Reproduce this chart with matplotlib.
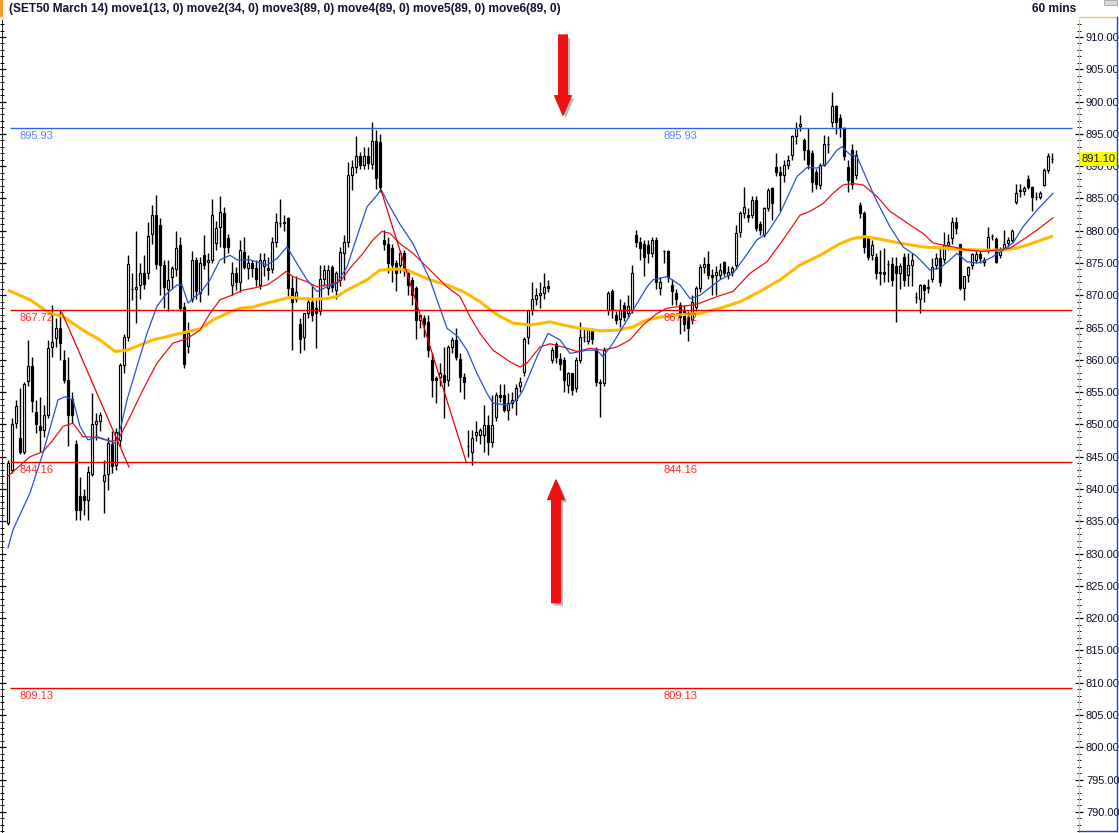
import numpy as np
import matplotlib.pyplot as plt
import matplotlib.patheffects as pe
import matplotlib.transforms as mtransforms
from matplotlib.ticker import MultipleLocator, FormatStrFormatter
from matplotlib.patches import Rectangle, FancyArrowPatch, ArrowStyle
from matplotlib.lines import Line2D

plt.rcParams['font.family'] = ['Liberation Sans', 'DejaVu Sans']

# 60 min bars, SET50 March 14
opens = [
    834.8, 843.0, 850.2, 847.9, 845.8, 856.7, 859.0, 852.0, 849.7, 849.2,
    851.5, 862.0, 863.4, 864.9, 860.0, 856.9, 853.9, 847.0, 839.0, 838.9,
    838.3, 842.4, 850.0, 850.6, 841.2, 842.4, 847.0, 843.8, 847.6, 859.2,
    863.6, 871.0, 871.0, 871.6, 873.4, 873.4, 879.5, 882.4, 880.9, 874.7,
    871.0, 872.8, 874.0, 877.8, 868.2, 862.1, 869.5, 875.5, 870.3, 876.2,
    875.1, 875.5, 878.1, 880.6, 882.8, 878.8, 871.6, 873.4, 872.1, 876.7,
    874.2, 875.0, 874.2, 871.6, 874.6, 874.3, 874.1, 878.3, 881.2, 881.2,
    881.9, 871.1, 869.5, 865.6, 863.6, 867.2, 869.0, 868.0, 867.5, 872.6,
    871.1, 874.4, 870.8, 872.3, 876.5, 878.3, 888.6, 889.9, 891.5, 890.2,
    891.5, 890.4, 893.9, 893.8, 878.5, 877.9, 877.3, 875.0, 874.7, 876.5,
    873.4, 872.4, 871.1, 866.2, 866.5, 865.9, 860.0, 857.2, 857.4, 857.6,
    856.9, 862.0, 863.1, 860.2, 857.4, 846.6, 845.8, 848.4, 848.4, 848.4,
    849.9, 847.3, 851.2, 854.6, 854.6, 852.3, 853.3, 853.8, 855.9, 858.2,
    863.6, 867.7, 869.5, 870.0, 870.3, 871.4, 860.0, 862.5, 860.2, 860.0,
    856.1, 857.9, 855.6, 860.0, 863.5, 863.0, 864.4, 861.5, 856.6, 856.4,
    867.7, 870.6, 866.9, 866.4, 868.5, 867.2, 867.7, 879.3, 878.3, 877.9,
    877.8, 876.5, 878.6, 871.1, 876.8, 876.8, 871.6, 870.3, 868.5, 867.5,
    866.7, 866.2, 868.2, 871.1, 874.4, 874.9, 873.1, 873.1, 873.1, 875.2,
    873.1, 873.6, 874.7, 879.8, 882.7, 882.5, 882.4, 884.8, 881.1, 879.3,
    883.5, 886.6, 889.9, 889.1, 888.6, 890.2, 891.7, 894.6, 896.2, 894.1,
    892.5, 892.0, 889.1, 887.1, 890.2, 893.4, 896.9, 899.3, 897.4, 895.9,
    889.9, 892.5, 888.6, 884.0, 882.7, 878.8, 876.2, 876.0, 873.4, 873.6,
    874.8, 874.8, 874.6, 873.4, 876.0, 873.1, 874.7, 869.8, 869.5, 871.6,
    871.2, 872.6, 874.7, 875.7, 875.6, 877.8, 878.8, 881.4, 877.9, 871.1,
    873.2, 874.7, 875.5, 876.4, 875.1, 877.1, 879.2, 878.7, 876.3, 877.3,
    878.1, 878.6, 884.5, 886.1, 886.1, 888.0, 886.8, 885.2, 885.2, 887.1,
    889.4, 891.1,
]
highs = [
    844.5, 851.0, 853.8, 855.6, 856.5, 863.1, 860.5, 853.8, 854.3, 853.0,
    863.1, 868.5, 866.5, 867.7, 861.5, 860.5, 855.0, 847.6, 841.9, 840.0,
    843.5, 854.8, 851.8, 852.0, 844.5, 848.1, 849.0, 849.5, 859.5, 864.0,
    876.2, 873.4, 879.9, 875.0, 876.2, 881.4, 884.0, 885.5, 882.0, 875.5,
    875.5, 874.5, 879.9, 879.0, 869.0, 865.8, 876.8, 876.0, 876.0, 879.3,
    876.5, 884.9, 881.5, 885.3, 883.7, 879.5, 875.2, 874.4, 878.5, 879.0,
    876.2, 875.5, 875.5, 876.5, 876.5, 876.0, 879.1, 882.7, 884.9, 882.5,
    882.2, 873.0, 873.0, 866.5, 867.2, 869.8, 871.5, 869.3, 874.7, 874.7,
    874.7, 874.7, 873.8, 877.5, 879.3, 890.7, 891.0, 894.6, 892.2, 893.0,
    893.0, 896.9, 895.6, 895.0, 880.1, 879.0, 878.0, 875.5, 877.0, 877.0,
    874.0, 872.8, 871.5, 867.0, 867.0, 867.0, 861.0, 857.5, 859.5, 862.0,
    862.3, 863.6, 865.0, 861.0, 858.0, 849.1, 849.1, 850.6, 849.5, 853.0,
    851.5, 854.6, 855.0, 856.2, 856.2, 854.8, 855.0, 856.2, 857.4, 863.5,
    867.7, 872.1, 871.1, 872.1, 873.4, 872.4, 862.0, 862.8, 861.0, 860.5,
    858.2, 858.0, 860.5, 865.9, 864.9, 865.0, 864.9, 862.0, 857.0, 862.0,
    870.6, 871.0, 867.5, 869.5, 869.0, 870.0, 874.7, 880.1, 879.0, 878.5,
    878.5, 879.0, 879.0, 872.8, 877.0, 877.0, 872.5, 871.0, 869.0, 868.5,
    867.5, 870.0, 871.5, 874.8, 876.0, 876.8, 874.0, 874.5, 875.0, 875.3,
    874.5, 874.5, 880.9, 883.0, 886.8, 883.5, 885.3, 885.3, 881.5, 883.7,
    886.6, 886.8, 892.0, 890.0, 891.0, 891.7, 894.8, 896.9, 897.9, 894.3,
    895.9, 892.5, 889.5, 890.5, 894.8, 894.6, 901.5, 899.5, 898.0, 896.0,
    891.0, 893.5, 892.5, 884.5, 883.0, 879.0, 878.5, 876.5, 877.0, 877.3,
    875.5, 876.0, 876.0, 875.0, 876.5, 876.5, 876.5, 870.5, 871.8, 871.8,
    872.5, 875.7, 876.5, 877.5, 879.8, 879.5, 882.2, 882.2, 878.0, 873.0,
    874.5, 876.5, 877.0, 876.8, 876.0, 880.6, 879.5, 879.0, 877.5, 880.1,
    879.0, 880.2, 887.3, 887.3, 887.0, 888.6, 887.0, 886.0, 886.2, 889.7,
    892.0, 892.0,
]
lows = [
    834.5, 842.5, 849.5, 845.5, 845.5, 856.0, 852.0, 848.7, 845.8, 848.0,
    851.0, 860.5, 862.0, 860.0, 856.4, 846.6, 850.2, 835.2, 835.2, 836.0,
    835.2, 842.0, 847.6, 849.0, 836.3, 839.9, 842.5, 843.0, 846.5, 858.0,
    863.0, 869.3, 865.7, 869.5, 871.0, 872.5, 878.0, 874.0, 870.0, 868.0,
    867.5, 871.0, 873.0, 867.5, 858.7, 861.0, 869.0, 869.5, 869.0, 874.0,
    870.0, 875.0, 877.0, 877.5, 875.0, 876.5, 870.0, 870.8, 870.5, 874.0,
    872.6, 872.9, 871.5, 871.0, 873.0, 872.4, 873.5, 877.5, 880.5, 880.0,
    869.8, 861.5, 869.0, 861.0, 861.5, 866.5, 866.0, 861.8, 867.0, 871.5,
    870.0, 870.5, 869.5, 871.5, 872.3, 877.5, 886.3, 889.0, 889.5, 889.5,
    889.5, 889.5, 886.5, 886.0, 877.0, 873.5, 872.0, 870.6, 873.5, 873.0,
    870.0, 868.5, 863.3, 865.0, 863.5, 860.5, 854.3, 853.3, 856.0, 851.0,
    856.0, 861.0, 860.0, 855.0, 854.0, 845.0, 843.7, 847.5, 847.0, 845.8,
    845.2, 846.5, 850.5, 853.5, 852.0, 850.7, 852.5, 851.5, 855.0, 857.5,
    862.5, 867.0, 868.5, 868.0, 869.5, 870.5, 859.5, 859.5, 858.5, 855.0,
    854.8, 854.6, 855.0, 859.5, 862.8, 862.5, 862.5, 856.0, 851.2, 856.0,
    867.0, 866.5, 865.5, 865.1, 866.0, 866.5, 867.2, 877.5, 875.5, 873.0,
    875.0, 876.0, 871.0, 870.0, 875.0, 872.0, 868.5, 868.5, 864.0, 864.5,
    863.0, 865.5, 867.5, 870.5, 873.5, 872.5, 870.0, 870.0, 872.5, 873.0,
    872.6, 873.0, 874.0, 879.0, 882.0, 881.3, 882.0, 880.0, 879.3, 879.0,
    883.0, 881.7, 888.5, 883.0, 887.5, 889.5, 891.0, 893.5, 895.5, 891.0,
    889.5, 886.0, 886.5, 886.5, 890.0, 892.0, 896.0, 895.0, 894.5, 891.0,
    886.0, 886.5, 888.0, 882.0, 876.5, 875.5, 875.5, 872.5, 871.6, 872.0,
    872.0, 871.5, 865.9, 871.0, 871.5, 871.5, 871.5, 868.8, 867.2, 869.0,
    870.3, 872.0, 874.0, 871.5, 875.0, 877.0, 878.0, 879.5, 870.8, 869.3,
    872.0, 874.0, 875.0, 875.0, 874.5, 876.5, 878.5, 875.0, 875.8, 877.0,
    877.5, 878.2, 884.2, 885.2, 885.6, 886.5, 883.0, 884.8, 884.9, 886.9,
    889.0, 890.5,
]
closes = [
    844.0, 850.1, 852.8, 845.8, 856.3, 859.0, 853.6, 850.0, 849.2, 851.5,
    861.8, 862.8, 864.9, 862.6, 856.9, 851.5, 851.5, 836.8, 836.8, 838.3,
    842.6, 850.0, 850.5, 851.5, 842.2, 847.1, 843.5, 848.9, 859.2, 863.6,
    874.9, 870.9, 871.3, 873.4, 871.8, 879.2, 882.4, 874.8, 874.7, 871.3,
    872.4, 874.3, 877.4, 868.0, 859.3, 864.1, 875.5, 870.6, 875.0, 874.7,
    875.5, 882.5, 880.4, 882.9, 877.5, 877.5, 873.4, 872.1, 877.0, 874.4,
    875.0, 874.2, 872.6, 875.5, 875.5, 873.9, 878.3, 881.4, 881.2, 881.3,
    871.1, 869.0, 870.5, 863.3, 867.2, 869.0, 866.9, 867.2, 872.6, 873.9,
    873.9, 871.3, 873.4, 876.7, 878.3, 888.6, 889.9, 891.5, 890.2, 891.5,
    890.5, 893.9, 888.1, 886.8, 878.0, 875.0, 874.7, 873.4, 876.5, 874.2,
    871.6, 870.0, 866.2, 866.9, 865.5, 861.5, 856.9, 856.9, 858.0, 856.6,
    862.0, 863.1, 860.5, 857.4, 856.6, 846.6, 847.9, 848.9, 849.2, 849.9,
    847.3, 849.9, 854.6, 854.3, 852.3, 853.3, 853.8, 855.6, 856.6, 863.3,
    867.7, 869.5, 870.0, 870.3, 871.3, 871.1, 861.5, 860.5, 859.4, 856.9,
    857.9, 855.3, 860.0, 863.5, 863.5, 864.6, 863.3, 856.6, 856.4, 861.5,
    870.4, 867.7, 866.2, 867.7, 866.7, 868.3, 873.4, 878.3, 877.3, 876.0,
    876.5, 878.6, 872.1, 872.1, 876.8, 872.9, 870.6, 869.5, 866.7, 865.5,
    864.9, 869.0, 871.1, 874.4, 874.9, 873.1, 872.9, 873.6, 873.9, 873.4,
    873.6, 874.2, 879.6, 882.7, 883.7, 882.2, 884.8, 880.4, 880.1, 883.5,
    886.3, 884.3, 889.1, 888.6, 890.2, 891.0, 894.6, 895.9, 896.6, 892.5,
    890.4, 887.6, 887.3, 890.2, 893.5, 893.4, 899.3, 896.9, 895.9, 891.5,
    887.9, 887.3, 891.7, 882.7, 877.5, 876.0, 877.8, 873.4, 873.6, 873.3,
    874.8, 872.4, 873.4, 874.6, 872.4, 874.7, 875.5, 869.8, 871.6, 870.8,
    871.3, 874.4, 875.7, 872.1, 877.8, 878.3, 881.4, 880.4, 871.1, 873.0,
    874.4, 876.4, 876.4, 875.7, 875.5, 879.1, 879.2, 875.2, 876.8, 878.0,
    878.6, 880.0, 885.8, 886.3, 886.6, 886.7, 885.2, 885.2, 885.8, 889.4,
    891.5, 891.1,
]

# moving averages (bar position, value)
move1_x = [0, 1.25, 5.5, 8.75, 12.5, 14.25, 16.25, 18, 20, 22.25, 24.75, 26.75, 28.25, 29.75,
           32.25, 34.75, 37.25, 39.25, 42.25, 43.5, 45, 46.75, 48, 50.5, 53, 55.5, 57.25, 60.5,
           64.75, 67.25, 69.75, 72.25, 74.75, 77.25, 79.75, 82.25, 84.75, 87.25, 89.75, 92.25,
           93.25, 95.5, 98, 101.25, 105.5, 109.75, 112.5, 114.75, 117.25, 119.75, 121.25, 124.75,
           127.25, 128.75, 132.25, 135, 138, 140.5, 144.75, 147.25, 148.75, 151.25, 156.25,
           159.75, 161.25, 164.75, 168, 170.5, 173, 178, 181.25, 183.75, 187.25, 189.75, 193,
           197.25, 199.75, 202.25, 204.75, 207.25, 208.5, 210.5, 212.25, 214.75, 217.25, 220.5,
           223.75, 227.25, 230.5, 233, 235.5, 237.25, 239.75, 242.25, 243.75, 246.25, 248.75,
           251.25, 253.75, 257.25, 261.25]
move1_y = [830.9, 833.7, 839.4, 845.6, 853.8, 854.3, 853.8, 849.7, 847.6, 848.1, 847.6, 847.1,
           849.7, 853.8, 859.0, 864.1, 868.3, 870.0, 871.6, 871.6, 868.8, 869.8, 870.3, 872.4,
           875.5, 876.2, 875.5, 875.5, 874.7, 875.7, 877.5, 874.9, 872.4, 870.6, 871.3, 871.9,
           874.4, 879.1, 883.7, 885.5, 886.4, 883.7, 881.0, 878.0, 872.4, 864.9, 863.6, 861.5,
           857.9, 854.8, 853.3, 853.0, 853.8, 855.3, 860.5, 864.1, 863.1, 861.0, 861.5, 861.5,
           860.5, 862.6, 867.7, 871.3, 872.4, 872.9, 871.6, 869.5, 870.0, 872.4, 873.4, 875.5,
           878.6, 879.6, 882.7, 888.4, 889.8, 889.7, 890.4, 892.5, 893.0, 891.8, 891.5, 887.9,
           884.5, 880.6, 877.5, 876.0, 873.9, 874.2, 875.5, 876.5, 875.2, 875.0, 875.2, 876.0,
           877.0, 878.1, 880.6, 883.2, 885.8]

move2_x = [0, 5.5, 8.75, 11.25, 13.75, 16.25, 18.75, 22.25, 25.5, 27.5, 30.5, 33.75, 37.25,
           41.25, 44.75, 48, 50.5, 53, 56.25, 58.75, 61.25, 64.75, 67.25, 69.5, 71.25, 74.75,
           77.25, 79.75, 83, 85.5, 88.75, 91.25, 93.5, 95.5, 98, 101.25, 105.5, 109.75, 113,
           115.5, 118, 121.25, 125.5, 128, 129.75, 133, 135.5, 138.75, 142.25, 145.5, 148.75,
           152.25, 155.5, 158.75, 162.25, 164.75, 168, 171.25, 173, 177.25, 181.25, 185.5,
           189.75, 193.75, 198, 200.5, 203.75, 206.25, 208.75, 211.25, 213.75, 217.25, 220.5,
           225.5, 228.75, 231.25, 233.75, 236.25, 239.75, 243.75, 247.25, 250.5, 253.75,
           257.25, 261.25]
move2_y = [842.0, 845.0, 845.8, 847.6, 849.7, 850.2, 848.1, 848.0, 847.4, 847.6, 851.2, 855.4,
           859.5, 862.6, 863.3, 864.6, 867.2, 869.3, 870.1, 870.8, 871.1, 871.6, 872.6, 873.7,
           872.9, 872.1, 871.3, 871.6, 872.1, 874.2, 876.5, 878.6, 879.9, 879.6, 878.0, 876.5,
           873.9, 871.3, 869.8, 866.7, 864.1, 861.5, 859.7, 858.9, 859.5, 862.0, 862.5, 862.0,
           861.3, 861.8, 861.5, 862.0, 863.1, 865.4, 867.2, 868.0, 868.3, 868.5, 868.8, 869.8,
           870.6, 873.4, 875.2, 878.6, 882.4, 883.0, 884.2, 885.8, 887.1, 887.3, 887.1, 885.3,
           883.0, 880.9, 879.6, 878.1, 877.8, 877.5, 877.0, 876.8, 877.0, 877.3, 878.6, 880.1,
           882.0]

move3_x = [0, 5.5, 10.5, 13.75, 18.75, 23, 26.75, 29.75, 33, 36.25, 39.75, 43, 48, 51.25,
           54.75, 58, 61.25, 64.75, 68, 70.5, 73, 76.25, 79.75, 82.25, 84.75, 87.25, 89.75, 93,
           98, 100.5, 105.5, 109.75, 113.75, 118, 122.25, 126.25, 130.5, 135.5, 138.75, 143,
           148, 152.25, 156.25, 159.75, 163.75, 168, 173, 178, 183, 188, 193, 198, 203, 208,
           211.25, 214.25, 218.75, 223.75, 228.75, 233.75, 238.75, 243.75, 248.75, 252.25,
           256.25, 261.25]
move3_y = [870.8, 869.3, 867.2, 866.7, 864.6, 863.1, 861.3, 861.5, 862.3, 863.1, 863.6, 864.1,
           864.8, 866.2, 867.2, 868.0, 868.2, 868.8, 869.3, 869.7, 869.5, 869.4, 869.5, 869.8,
           870.8, 871.6, 872.4, 873.9, 874.1, 873.7, 872.4, 871.6, 870.6, 869.0, 867.0, 865.7,
           865.4, 865.9, 865.4, 864.9, 864.5, 864.6, 865.1, 866.2, 866.7, 867.0, 867.2, 868.0,
           869.0, 870.6, 872.4, 874.7, 876.2, 878.0, 878.8, 879.1, 878.6, 878.0, 877.5, 877.3,
           877.1, 877.0, 877.0, 877.3, 878.1, 879.2]

levels = [895.93, 867.72, 844.16, 809.13]
level_colors = ['#3160e0', '#ee0000', '#ee0000', '#ee0000']
label_colors = ['#5b86f2', '#ff2a2a', '#ff2a2a', '#ff2a2a']

# trend lines drawn on the chart (bar, price)
trend1_x = [13.5, 30.25]
trend1_y = [867.3, 843.4]
trend2_x = [93.25, 114.5]
trend2_y = [886.3, 844.3]

last_price = 891.10

o = np.array(opens)
h = np.array(highs)
l = np.array(lows)
c = np.array(closes)
x = np.arange(len(c))

fig = plt.figure(figsize=(11.19, 8.33), dpi=100)
ax = fig.add_axes([2 / 1119, 0, 1077 / 1119, 813 / 833])

# candles
ax.vlines(x, l, h, color='black', lw=1, zorder=2)
up = c >= o
ax.bar(x, np.abs(c - o), bottom=np.minimum(o, c), width=0.65,
       color=np.where(up, 'white', 'black'), edgecolor='black', linewidth=0.85, zorder=3)

# moving averages
ax.plot(move3_x, move3_y, color='#ffb900', lw=2.2, zorder=4, solid_capstyle='butt')
ax.plot(move2_x, move2_y, color='#ee1111', lw=0.9, zorder=5)
ax.plot(move1_x, move1_y, color='#2452d8', lw=0.9, zorder=5)

# trend lines
ax.plot(trend1_x, trend1_y, color='#ee0000', lw=0.9, zorder=5)
ax.plot(trend2_x, trend2_y, color='#ee0000', lw=0.9, zorder=5)

# horizontal levels
for lv, lc, tc in zip(levels, level_colors, label_colors):
    ax.hlines(lv, 0.5, 266, color=lc, lw=1, zorder=6)
    for px in (3, 163.75):
        ax.annotate(f'{lv:.2f}', (px, lv), xytext=(0, -2), textcoords='offset points',
                    ha='left', va='top', fontsize=8, color=tc, zorder=7)

# red arrows
shadow = [pe.SimplePatchShadow(offset=(2, -2), shadow_rgbFace='#888888', alpha=0.6), pe.Normal()]
style = ArrowStyle.Simple(head_length=1.4, head_width=1.2, tail_width=0.62)
for xa, y0, y1 in [(138.75, 910.3, 897.9), (137.0, 822.4, 841.4)]:
    arr = FancyArrowPatch((xa, y0), (xa, y1), arrowstyle=style, mutation_scale=10,
                          color='#ee1111', shrinkA=0, shrinkB=0, zorder=8,
                          joinstyle='round', capstyle='round')
    arr.set_path_effects(shadow)
    ax.add_patch(arr)

ax.set_xlim(-1.5, 267.75)
ax.set_ylim(786.74, 912.63)
ax.set_xticks([])
ax.yaxis.set_major_locator(MultipleLocator(5))
ax.yaxis.set_minor_locator(MultipleLocator(1))
ax.yaxis.set_major_formatter(FormatStrFormatter('%.2f'))
ax.tick_params(axis='y', which='both', left=True, right=True, labelleft=False,
               labelright=True, direction='inout', labelsize=8, pad=2, labelcolor='#101028')
ax.tick_params(axis='y', which='major', length=6, width=0.9)
ax.tick_params(axis='y', which='minor', length=3, width=0.7)
for s in ('top', 'bottom'):
    ax.spines[s].set_visible(False)
ax.spines['left'].set_linewidth(0.6)
ax.spines['right'].set_color('#e8c070')

# last price box on the scale
tr = mtransforms.blended_transform_factory(ax.transAxes, ax.transData)
ax.text(1.0025, last_price, f'{last_price:.2f}', transform=tr, ha='left', va='center',
        fontsize=8, color='#101028', zorder=10,
        bbox=dict(facecolor='#ffff00', edgecolor='none', pad=1.2))

# header
fig.text(9 / 1119, 1 - 9 / 833,
         '(SET50 March 14) move1(13, 0) move2(34, 0) move3(89, 0) move4(89, 0) move5(89, 0) move6(89, 0)',
         ha='left', va='center', fontsize=8.6, fontweight='bold', color='#101030')
fig.text(1076 / 1119, 1 - 9 / 833, '60 mins', ha='right', va='center',
         fontsize=8.6, fontweight='bold', color='#101030')
fig.add_artist(Rectangle((0, 1 - 17 / 833), 3 / 1119, 17 / 833, transform=fig.transFigure,
                         color='#f0a030', lw=0))
fig.add_artist(Rectangle((1104 / 1119, 1 - 5 / 833), 13 / 1119, 5 / 833, transform=fig.transFigure,
                         facecolor='#d8d8d8', edgecolor='#a0a0a0', lw=0.6))
fig.add_artist(Line2D([1079 / 1119, 1117 / 1119], [1 - 17 / 833] * 2, transform=fig.transFigure,
                      color='#e8c070', lw=1))
fig.add_artist(Line2D([1117 / 1119] * 2, [2 / 833, 1 - 17 / 833], transform=fig.transFigure,
                      color='#2040c0', lw=1))
fig.add_artist(Line2D([1079 / 1119, 1117 / 1119], [2 / 833] * 2, transform=fig.transFigure,
                      color='#2040c0', lw=1))

fig.savefig('out.png', dpi=100)
